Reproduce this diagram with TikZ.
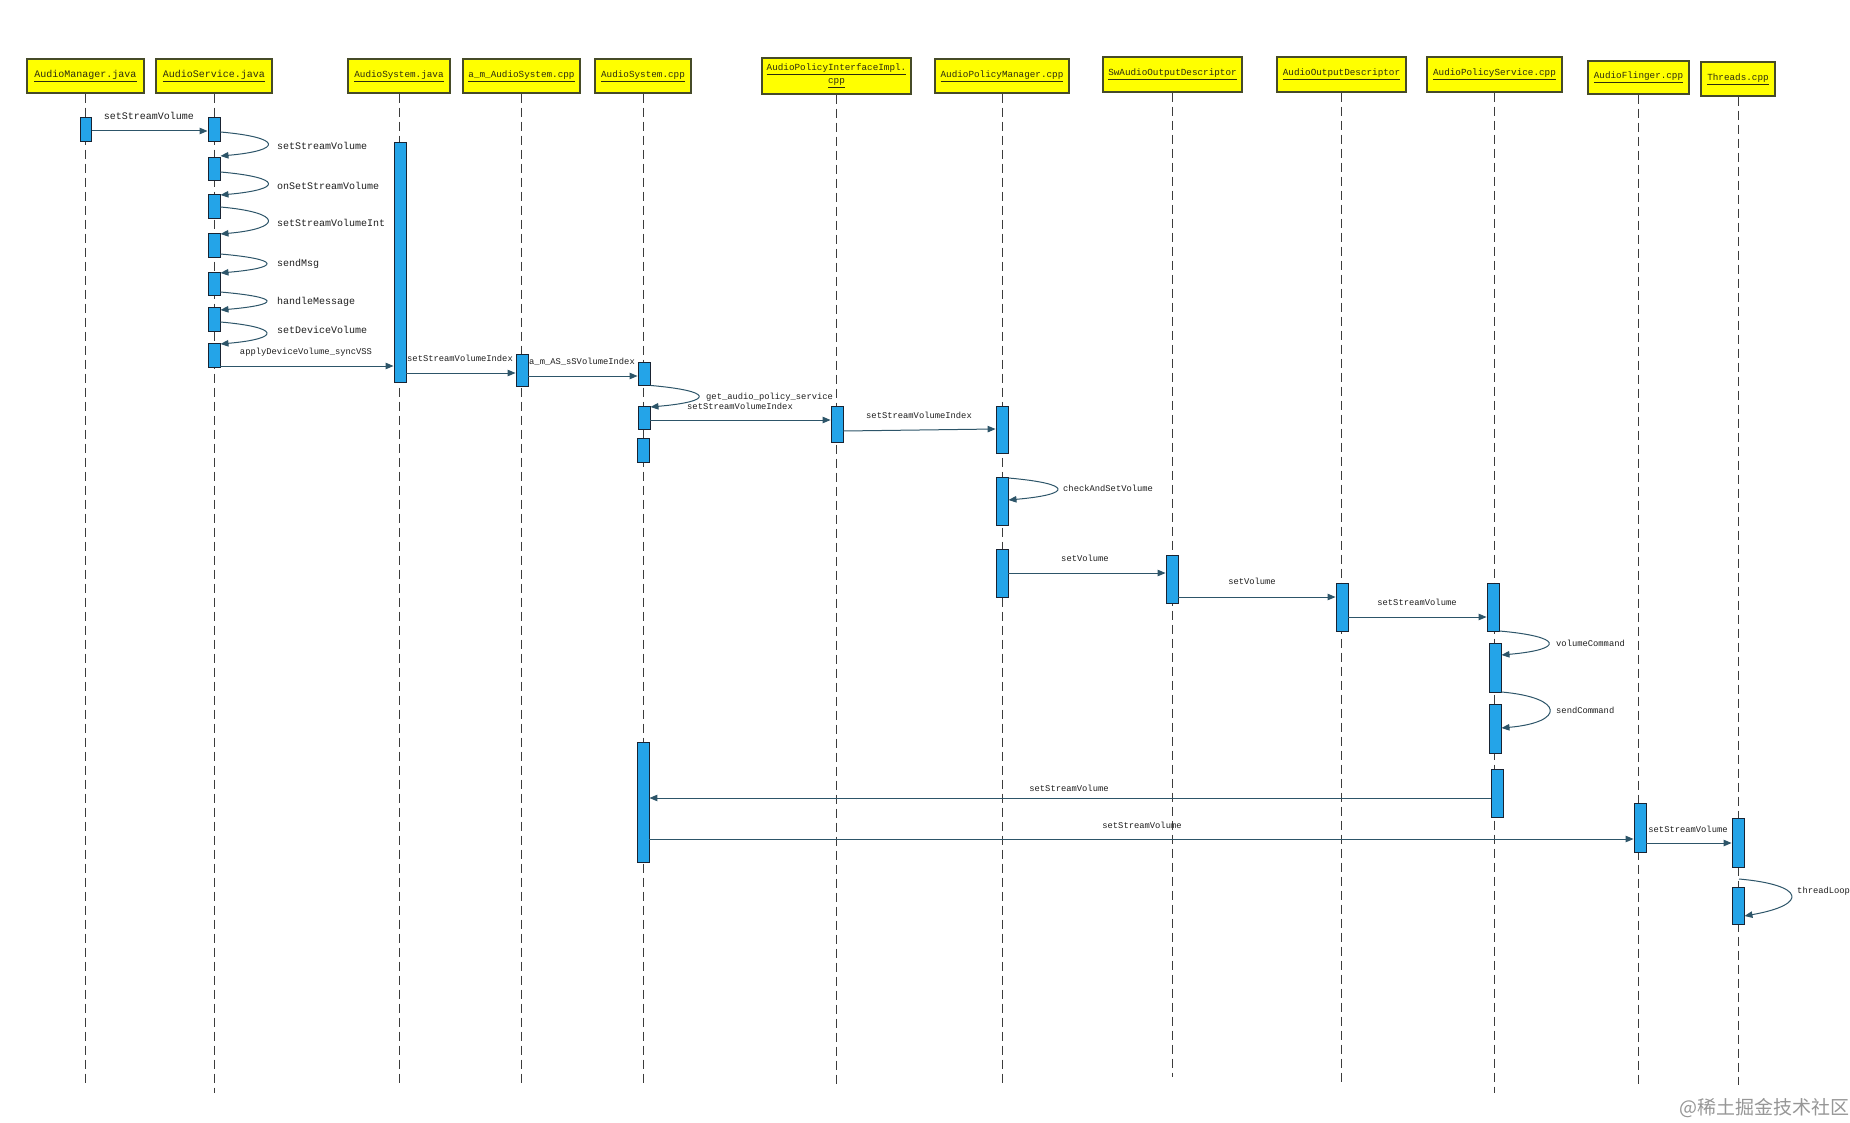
\documentclass[tikz,border=0pt]{standalone}
\usepackage{fontspec}
\newfontfamily\lmono{Liberation Mono}
\newfontfamily\cjkfont{Noto Sans CJK SC}
\usetikzlibrary{arrows.meta}
\definecolor{actblue}{RGB}{36,164,232}
\definecolor{actedge}{RGB}{25,35,50}
\definecolor{hdrfill}{RGB}{255,255,0}
\definecolor{hdredge}{RGB}{70,75,40}
\definecolor{hdrtext}{RGB}{45,45,15}
\definecolor{msgc}{RGB}{45,85,105}
\definecolor{lifec}{RGB}{60,60,60}
\definecolor{lblc}{RGB}{30,30,30}
\definecolor{wmark}{RGB}{150,150,150}
\begin{document}
\begin{tikzpicture}[x=1pt,y=-1pt,
 hdr/.style={draw=hdredge, fill=hdrfill, line width=1.2pt, inner sep=0pt, text=hdrtext, font=\lmono\fontsize{9.3}{13}\selectfont, align=center},
 hdrbig/.style={hdr, font=\lmono\fontsize{10}{13}\selectfont},
 act/.style={draw=actedge, fill=actblue, line width=0.9pt, minimum width=12pt, inner sep=0pt},
 life/.style={draw=lifec, line width=0.9pt, dash pattern=on 9pt off 5pt},
 msg/.style={draw=msgc, line width=1pt, -{Triangle[length=8pt,width=6.5pt]}},
 lbl/.style={text=lblc, inner sep=0pt, font=\lmono\fontsize{8.8}{10}\selectfont},
 lblbig/.style={text=lblc, inner sep=0pt, font=\lmono\fontsize{10}{12}\selectfont}]
\useasboundingbox (0,0) rectangle (1850,1123);

% header boxes
\node[hdrbig, minimum width=117pt, minimum height=34pt] (h1) at (85.5,76) {\underline{AudioManager.java}};
\node[hdrbig, minimum width=116pt, minimum height=34pt] (h2) at (214,76) {\underline{AudioService.java}};
\node[hdr, minimum width=102pt, minimum height=34pt] (h3) at (399,76) {\underline{AudioSystem.java}};
\node[hdr, minimum width=117pt, minimum height=34pt] (h4) at (521.5,76) {\underline{a\_m\_AudioSystem.cpp}};
\node[hdr, minimum width=96pt, minimum height=34pt] (h5) at (643,76) {\underline{AudioSystem.cpp}};
\node[hdr, minimum width=149pt, minimum height=36pt] (h6) at (836.5,76) {\underline{AudioPolicyInterfaceImpl.}\\\underline{cpp}};
\node[hdr, minimum width=134pt, minimum height=34pt] (h7) at (1002,76) {\underline{AudioPolicyManager.cpp}};
\node[hdr, minimum width=139pt, minimum height=35pt] (h8) at (1172.5,74.5) {\underline{SwAudioOutputDescriptor}};
\node[hdr, minimum width=129pt, minimum height=35pt] (h9) at (1341.5,74.5) {\underline{AudioOutputDescriptor}};
\node[hdr, minimum width=135pt, minimum height=35pt] (h10) at (1494.5,74.5) {\underline{AudioPolicyService.cpp}};
\node[hdr, minimum width=101pt, minimum height=33pt] (h11) at (1638.5,77.5) {\underline{AudioFlinger.cpp}};
\node[hdr, minimum width=74pt, minimum height=34pt] (h12) at (1738,79) {\underline{Threads.cpp}};

% lifelines
\draw[life] (h1.south) -- (h1.south |- 0,1085);
\draw[life] (h2.south) -- (h2.south |- 0,1093);
\draw[life] (h3.south) -- (h3.south |- 0,1085);
\draw[life] (h4.south) -- (h4.south |- 0,1085);
\draw[life] (h5.south) -- (h5.south |- 0,1085);
\draw[life] (h6.south) -- (h6.south |- 0,1085);
\draw[life] (h7.south) -- (h7.south |- 0,1085);
\draw[life] (h8.south) -- (h8.south |- 0,1077);
\draw[life] (h9.south) -- (h9.south |- 0,1085);
\draw[life] (h10.south) -- (h10.south |- 0,1093);
\draw[life] (h11.south) -- (h11.south |- 0,1085);
\draw[life] (h12.south) -- (h12.south |- 0,1085);

% activations
\node[act, minimum width=11pt, minimum height=24pt] (am1) at (86,129) {};
\node[act, minimum height=24pt] (as1) at (214,129) {};
\node[act, minimum height=23pt] (as2) at (214,168.5) {};
\node[act, minimum height=24pt] (as3) at (214,206) {};
\node[act, minimum height=24pt] (as4) at (214,245) {};
\node[act, minimum height=23pt] (as5) at (214,283.5) {};
\node[act, minimum height=24pt] (as6) at (214,319) {};
\node[act, minimum height=24pt] (as7) at (214,355) {};
\node[act, minimum height=240pt] (sj1) at (400,262) {};
\node[act, minimum height=32pt] (amc1) at (522,370) {};
\node[act, minimum height=23pt] (sc1) at (644,373.5) {};
\node[act, minimum height=23pt] (sc2) at (644,417.5) {};
\node[act, minimum height=24pt] (sc3) at (643,450) {};
\node[act, minimum height=120pt] (sc4) at (643,802) {};
\node[act, minimum height=36pt] (pi1) at (837,424) {};
\node[act, minimum height=47pt] (pm1) at (1002,429.5) {};
\node[act, minimum height=48pt] (pm2) at (1002,501) {};
\node[act, minimum height=48pt] (pm3) at (1002,573) {};
\node[act, minimum height=48pt] (sw1) at (1172,579) {};
\node[act, minimum height=48pt] (ao1) at (1342,607) {};
\node[act, minimum height=48pt] (ps1) at (1493,607) {};
\node[act, minimum height=49pt] (ps2) at (1495,667.5) {};
\node[act, minimum height=49pt] (ps3) at (1495,728.5) {};
\node[act, minimum height=48pt] (ps4) at (1497,793) {};
\node[act, minimum height=49pt] (af1) at (1640,827.5) {};
\node[act, minimum height=49pt] (th1) at (1738,842.5) {};
\node[act, minimum height=37pt] (th2) at (1738,905.5) {};

% messages
\draw[msg] (am1.east |- 0,131) -- (as1.west |- 0,131);
\node[lblbig] (t1) at (149,116) {setStreamVolume};

\draw[msg] (as1.east |- 0,132) to[out=-5,in=5,distance=63pt] (as2.east |- 0,156);
\node[lblbig, anchor=west] (t2) at (277,146) {setStreamVolume};
\draw[msg] (as2.east |- 0,172) to[out=-5,in=5,distance=63pt] (as3.east |- 0,195);
\node[lblbig, anchor=west] (t3) at (277,186) {onSetStreamVolume};
\draw[msg] (as3.east |- 0,207) to[out=-5,in=5,distance=63pt] (as4.east |- 0,234);
\node[lblbig, anchor=west] (t4) at (277,223) {setStreamVolumeInt};
\draw[msg] (as4.east |- 0,254) to[out=-5,in=5,distance=61pt] (as5.east |- 0,273);
\node[lblbig, anchor=west] (t5) at (277,264) {sendMsg};
\draw[msg] (as5.east |- 0,292) to[out=-5,in=5,distance=61pt] (as6.east |- 0,310);
\node[lblbig, anchor=west] (t6) at (277,302) {handleMessage};
\draw[msg] (as6.east |- 0,322) to[out=-5,in=5,distance=61pt] (as7.east |- 0,344);
\node[lblbig, anchor=west] (t7) at (277,330) {setDeviceVolume};

\draw[msg] (as7.east |- 0,366) -- (sj1.west |- 0,366);
\node[lbl] (t8) at (306,352) {applyDeviceVolume\_syncVSS};

\draw[msg] (sj1.east |- 0,373) -- (amc1.west |- 0,373);
\node[lbl, anchor=west] (t9) at (407,358) {setStreamVolumeIndex};
\draw[msg] (amc1.east |- 0,376) -- (sc1.west |- 0,376);
\node[lbl, anchor=west] (t10) at (529,362) {a\_m\_AS\_sSVolumeIndex};

\draw[msg] (sc1.south east) to[out=-5,in=5,distance=64pt] (sc2.east |- 0,407);
\node[lbl, anchor=west] (t11) at (706,397) {get\_audio\_policy\_service};
\node[lbl, anchor=west] (t12) at (687,406) {setStreamVolumeIndex};
\draw[msg] (sc2.east |- 0,420) -- (pi1.west |- 0,420);

\draw[msg] (pi1.east |- 0,431) -- (pm1.west |- 0,429);
\node[lbl] (t13) at (919,415) {setStreamVolumeIndex};

\draw[msg] (pm2.east |- 0,478) to[out=-5,in=5,distance=65pt] (pm2.east |- 0,500);
\node[lbl, anchor=west] (t14) at (1063,488) {checkAndSetVolume};

\draw[msg] (pm3.east |- 0,573) -- (sw1.west |- 0,573);
\node[lbl] (t15) at (1085,558) {setVolume};
\draw[msg] (sw1.east |- 0,597) -- (ao1.west |- 0,597);
\node[lbl] (t16) at (1252,581) {setVolume};
\draw[msg] (ao1.east |- 0,617) -- (ps1.west |- 0,617);
\node[lbl] (t17) at (1417,602) {setStreamVolume};

\draw[msg] (ps1.east |- 0,631) to[out=-5,in=5,distance=64pt] (ps2.east |- 0,655);
\node[lbl, anchor=west] (t18) at (1556,643) {volumeCommand};
\draw[msg] (ps2.east |- 0,692) to[out=-5,in=5,distance=64pt] (ps3.east |- 0,728);
\node[lbl, anchor=west] (t19) at (1556,710) {sendCommand};

\draw[msg] (ps4.west |- 0,798) -- (sc4.east |- 0,798);
\node[lbl] (t20) at (1069,788) {setStreamVolume};
\draw[msg] (sc4.east |- 0,839) -- (af1.west |- 0,839);
\node[lbl] (t21) at (1142,825) {setStreamVolume};
\draw[msg] (af1.east |- 0,843) -- (th1.west |- 0,843);
\node[lbl] (t22) at (1688,829) {setStreamVolume};

\coordinate (tl0) at (1739,879);
\draw[msg] (tl0) to[out=-5,in=10,distance=66pt] (th2.east |- 0,916);
\node[lbl, anchor=west] (t23) at (1797,891) {threadLoop};

% watermark
\node[text=wmark, inner sep=0pt, font=\cjkfont\fontsize{19}{20}\selectfont] (wm) at (1764,1108) {@稀土掘金技术社区};
\end{tikzpicture}
\end{document}
